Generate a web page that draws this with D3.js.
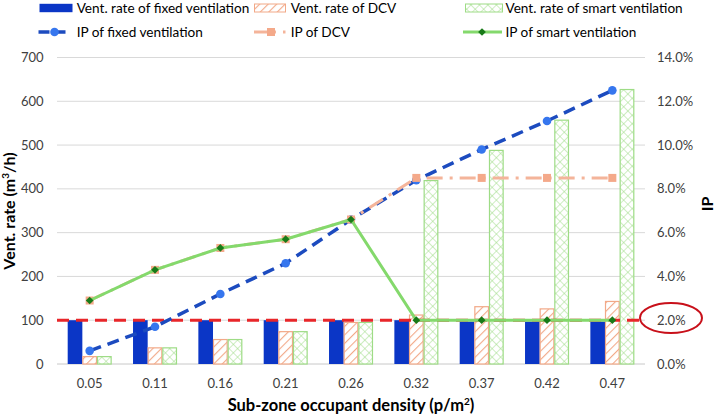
<!DOCTYPE html>
<html><head><meta charset="utf-8">
<script src="https://cdn.jsdelivr.net/npm/d3@7"></script>
<style>
html,body{margin:0;padding:0;background:#fff;}
svg{display:block;font-family:Lato, "Open Sans", sans-serif;}
</style></head>
<body>
<svg id="c" width="714" height="416"></svg>
<script>
const categories = ["0.05","0.11","0.16","0.21","0.26","0.32","0.37","0.42","0.47"];
const fixedRate = [100,100,100,100,100,100,97,97,97];
const dcvRate   = [18,38,57,75,96,113,132,127,144];
const smartRate = [18,38,57,75,96,420,489,558,628];
const ipFixed = [0.6,1.7,3.2,4.6,6.6,8.4,9.8,11.1,12.5];
const ipDcv   = [2.9,4.3,5.3,5.7,6.6,8.5,8.5,8.5,8.5];
const ipSmart = [2.9,4.3,5.3,5.7,6.6,2.0,2.0,2.0,2.0];
const ipThreshold = 2.0;
const leftTicks = [0,100,200,300,400,500,600,700];
const rightTicks = [0,2,4,6,8,10,12,14];

const svg = d3.select("#c");
const L = 57, R = 645, T = 57.5, B = 364;

const defs = svg.append("defs");
const hatch = defs.append("pattern").attr("id","hatch").attr("patternUnits","userSpaceOnUse")
  .attr("width",6).attr("height",6).attr("patternTransform","rotate(45)");
hatch.append("rect").attr("width",6).attr("height",6).attr("fill","#fff");
hatch.append("line").attr("x1",0).attr("y1",0).attr("x2",0).attr("y2",6).attr("stroke","#F2A988").attr("stroke-width",2.2);
const cross = defs.append("pattern").attr("id","cross").attr("patternUnits","userSpaceOnUse")
  .attr("width",6).attr("height",6).attr("patternTransform","rotate(45)");
cross.append("rect").attr("width",6).attr("height",6).attr("fill","#fff");
cross.append("line").attr("x1",0).attr("y1",0).attr("x2",0).attr("y2",6).attr("stroke","#9EDC86").attr("stroke-width",1);
cross.append("line").attr("x1",0).attr("y1",0).attr("x2",6).attr("y2",0).attr("stroke","#9EDC86").attr("stroke-width",1);

const x = d3.scaleBand().domain(categories).range([L,R]).padding(0);
const sub = d3.scaleBand().domain(["fixed","dcv","smart"]).range([0,x.bandwidth()]).paddingInner(0).paddingOuter(0.73);
const yL = d3.scaleLinear().domain([0,700]).range([B,T]);
const yR = d3.scaleLinear().domain([0,14]).range([B,T]);

// gridlines
svg.append("g").selectAll("line").data(leftTicks.slice(1)).join("line")
  .attr("x1",L).attr("x2",R).attr("y1",d=>yL(d)).attr("y2",d=>yL(d))
  .attr("stroke","#D9D9D9").attr("stroke-width",1);
svg.append("line").attr("x1",L).attr("x2",R).attr("y1",yL(0)).attr("y2",yL(0)).attr("stroke","#C8C8C8").attr("stroke-width",1);

// axes labels
const fs = "13px";
svg.append("g").selectAll("text").data(leftTicks).join("text")
  .attr("x",43.5).attr("y",d=>yL(d)).attr("dy","0.35em").attr("text-anchor","end")
  .attr("font-size",fs).attr("fill","#404040").text(d=>d);
svg.append("g").selectAll("text").data(rightTicks).join("text")
  .attr("x",657).attr("y",d=>yR(d)).attr("dy","0.35em").attr("text-anchor","start")
  .attr("font-size",fs).attr("fill","#404040").text(d=>d.toFixed(1)+"%");
svg.append("g").selectAll("text").data(categories).join("text")
  .attr("x",d=>x(d)+x.bandwidth()/2).attr("y",383).attr("dy","0.35em").attr("text-anchor","middle")
  .attr("font-size",fs).attr("fill","#404040").text(d=>d);

// titles
const yt = svg.append("text").attr("transform","translate(15,211) rotate(-90)").attr("text-anchor","middle")
  .attr("font-size","16px").attr("font-weight","bold").attr("fill","#000");
yt.append("tspan").text("Vent. rate (m");
yt.append("tspan").attr("baseline-shift","super").attr("font-size","10px").text("3");
yt.append("tspan").text("/h)");
svg.append("text").attr("transform","translate(712.5,204) rotate(-90)").attr("text-anchor","middle")
  .attr("font-size","16px").attr("font-weight","bold").text("IP");
const xt = svg.append("text").attr("x",351).attr("y",411).attr("text-anchor","middle")
  .attr("font-size","16.5px").attr("font-weight","bold");
xt.append("tspan").text("Sub-zone occupant density (p/m");
xt.append("tspan").attr("baseline-shift","super").attr("font-size","10px").text("2");
xt.append("tspan").text(")");

// bars
const barG = svg.append("g");
const series = [
  {key:"fixed", vals:fixedRate, fill:"#0B36C6", stroke:"none"},
  {key:"dcv", vals:dcvRate, fill:"url(#hatch)", stroke:"#F2A988"},
  {key:"smart", vals:smartRate, fill:"url(#cross)", stroke:"#9EDC86"}
];
series.forEach(s=>{
  const o = s.stroke==="none"?0:0.5;
  barG.append("g").selectAll("rect").data(s.vals).join("rect")
    .attr("x",(d,i)=>x(categories[i])+sub(s.key)+o)
    .attr("width",sub.bandwidth()-2*o)
    .attr("y",d=>yL(d)+o)
    .attr("height",d=>yL(0)-yL(d)-o)
    .attr("fill",s.fill).attr("stroke",s.stroke).attr("stroke-width",1.2);
});

// threshold line
svg.append("line").attr("x1",L).attr("x2",R-3).attr("y1",yR(ipThreshold)).attr("y2",yR(ipThreshold))
  .attr("stroke","#E8262A").attr("stroke-width",3).attr("stroke-dasharray","12,7");

const cx = (d,i)=>x(categories[i])+x.bandwidth()/2;
const line = d3.line().x(cx).y(d=>yR(d));

// IP fixed
svg.append("path").datum(ipFixed).attr("d",line).attr("fill","none")
  .attr("stroke","#1C4BBF").attr("stroke-width",3.5).attr("stroke-dasharray","12,7");
svg.append("g").selectAll("circle").data(ipFixed).join("circle")
  .attr("cx",cx).attr("cy",d=>yR(d)).attr("r",4.3).attr("fill","#3676EE");

// IP DCV
svg.append("path").datum(ipDcv).attr("d",line).attr("fill","none")
  .attr("stroke","#F4B49A").attr("stroke-width",3).attr("stroke-dasharray","16,7,3,7");
svg.append("g").selectAll("rect").data(ipDcv).join("rect")
  .attr("x",(d,i)=>cx(d,i)-4).attr("y",d=>yR(d)-4).attr("width",8).attr("height",8).attr("fill","#F4A98A");

// IP smart
svg.append("path").datum(ipSmart).attr("d",line).attr("fill","none")
  .attr("stroke","#84D96C").attr("stroke-width",3);
const dia = d3.symbol().type(d3.symbolDiamond2).size(38);
svg.append("g").selectAll("path").data(ipSmart).join("path")
  .attr("transform",(d,i)=>`translate(${cx(d,i)},${yR(d)})`).attr("d",dia).attr("fill","#187A18");

// ellipse
svg.append("ellipse").attr("cx",671).attr("cy",318).attr("rx",31).attr("ry",15)
  .attr("fill","none").attr("stroke","#C8101A").attr("stroke-width",2);

// legend
const lfs = "13.6px";
const lg = svg.append("g").attr("font-size",lfs).attr("fill","#000");
const r1 = 8, r2 = 32;
lg.append("rect").attr("x",39.5).attr("y",r1-4.2).attr("width",33).attr("height",8.4).attr("fill","#0B36C6");
lg.append("text").attr("x",76.7).attr("y",r1).attr("dy","0.35em").text("Vent. rate of fixed ventilation");
lg.append("rect").attr("x",254.5).attr("y",r1-4).attr("width",31).attr("height",8).attr("fill","url(#hatch)").attr("stroke","#F2A988");
lg.append("text").attr("x",290.7).attr("y",r1).attr("dy","0.35em").text("Vent. rate of DCV");
lg.append("rect").attr("x",465.5).attr("y",r1-4).attr("width",37).attr("height",8).attr("fill","url(#cross)").attr("stroke","#9EDC86");
lg.append("text").attr("x",505.5).attr("y",r1).attr("dy","0.35em").text("Vent. rate of smart ventilation");

lg.append("line").attr("x1",38.5).attr("x2",70.5).attr("y1",r2).attr("y2",r2).attr("stroke","#1C4BBF").attr("stroke-width",3.5).attr("stroke-dasharray","11,5");
lg.append("circle").attr("cx",54.5).attr("cy",r2).attr("r",4.3).attr("fill","#3676EE");
lg.append("text").attr("x",76.7).attr("y",r2).attr("dy","0.35em").text("IP of fixed ventilation");
lg.append("line").attr("x1",254).attr("x2",276).attr("y1",r2).attr("y2",r2).attr("stroke","#F4B49A").attr("stroke-width",3);
lg.append("line").attr("x1",283).attr("x2",285.5).attr("y1",r2).attr("y2",r2).attr("stroke","#F4B49A").attr("stroke-width",3);
lg.append("rect").attr("x",267).attr("y",r2-4).attr("width",8).attr("height",8).attr("fill","#F4A98A");
lg.append("text").attr("x",290.7).attr("y",r2).attr("dy","0.35em").text("IP of DCV");
lg.append("line").attr("x1",463).attr("x2",502).attr("y1",r2).attr("y2",r2).attr("stroke","#84D96C").attr("stroke-width",3);
lg.append("path").attr("transform",`translate(482,${r2})`).attr("d",dia).attr("fill","#187A18");
lg.append("text").attr("x",505.5).attr("y",r2).attr("dy","0.35em").text("IP of smart ventilation");
</script>
</body></html>
